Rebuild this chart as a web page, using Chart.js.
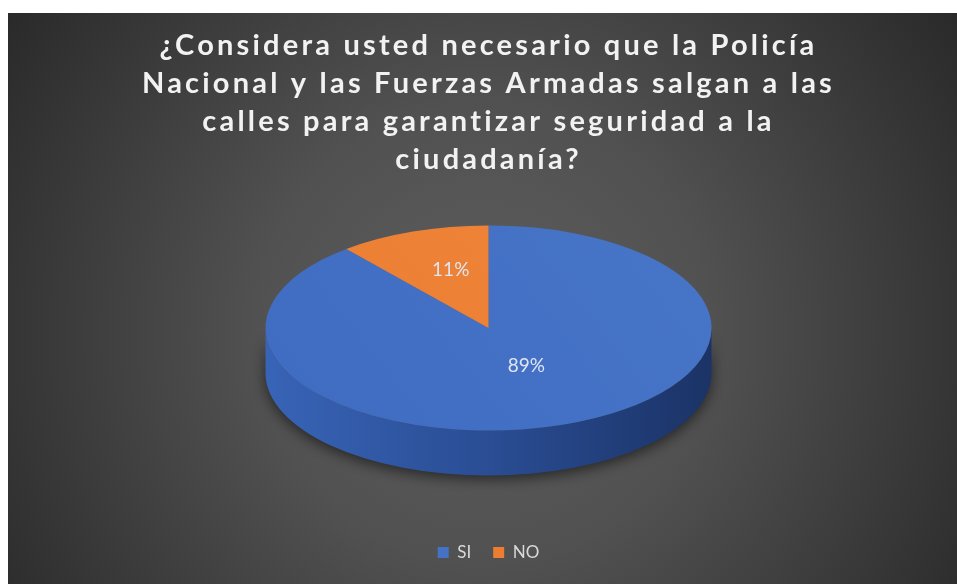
<!DOCTYPE html>
<html>
<head>
<meta charset="utf-8">
<script src="https://cdn.jsdelivr.net/npm/chart.js@4.4.1/dist/chart.umd.min.js"></script>
<style>
  body { margin: 0; background: #fff; }
  #wrap { position: absolute; left: 8px; top: 13px; width: 949px; height: 571px; }
</style>
</head>
<body>
<div id="wrap"><canvas id="pieChart"></canvas></div>
<script>
const titleLines = [
  "¿Considera usted necesario que la Policía",
  "Nacional y las Fuerzas Armadas salgan a las",
  "calles para garantizar seguridad a la",
  "ciudadanía?"
];
const labels = ["SI", "NO"];
const values = [89, 11];
const colors = ["#4472C4", "#ED7D31"];
const topShades = [["#4d7bcb", "#3966be"], ["#f28a40", "#e8782c"]];
const sideColors = [["#3864b7", "#2a4d94", "#1b3366"], ["#c0622a", "#a85220", "#7a3a15"]];

// look of the 3d disc
const RX = 223;
const TILT = 0.46;
const DEPTH = 45;

function pieGeom(chart) {
  const el = chart.getDatasetMeta(0).data[0];
  const r = el.outerRadius;
  return { x: el.x, y: el.y, cx: el.x, cy: el.y - DEPTH / 2, rx: RX, ry: RX * TILT, r: r };
}

function topFill(context) {
  const i = context.dataIndex;
  const area = context.chart.chartArea;
  if (!area || i === undefined) return colors[i] || colors[0];
  const c = context.chart.ctx;
  const g = c.createLinearGradient(area.right, area.top, area.left, area.bottom);
  g.addColorStop(0, topShades[i][0]);
  g.addColorStop(1, topShades[i][1]);
  return g;
}

const disc3d = {
  id: "disc3d",
  afterLayout(chart) {
    // spaced out letters for the title only
    const tb = chart.titleBlock;
    if (tb && !tb._spaced) {
      const orig = tb.draw.bind(tb);
      tb.draw = function () {
        chart.ctx.letterSpacing = "3.2px";
        orig();
        chart.ctx.letterSpacing = "0px";
      };
      tb._spaced = true;
    }
  },
  beforeDraw(chart) {
    const { ctx, width, height } = chart;
    const g = ctx.createRadialGradient(width / 2, height * 0.56, 0, width / 2, height * 0.56, width * 0.6);
    g.addColorStop(0, "#5e5e5e");
    g.addColorStop(0.4, "#515151");
    g.addColorStop(1, "#2a2a2a");
    ctx.save();
    ctx.fillStyle = g;
    ctx.fillRect(0, 0, width, height);
    ctx.restore();
  },
  beforeDatasetsDraw(chart) {
    const ctx = chart.ctx;
    const p = pieGeom(chart);
    const arcs = chart.getDatasetMeta(0).data;
    // side wall, only the front half is visible
    arcs.forEach((el, i) => {
      [0, 2 * Math.PI, -2 * Math.PI].forEach(shift => {
        const a = Math.max(el.startAngle + shift, 0);
        const b = Math.min(el.endAngle + shift, Math.PI);
        if (b <= a) return;
        const g = ctx.createLinearGradient(p.cx - p.rx, 0, p.cx + p.rx, 0);
        g.addColorStop(0, sideColors[i][0]);
        g.addColorStop(0.5, sideColors[i][1]);
        g.addColorStop(1, sideColors[i][2]);
        ctx.save();
        ctx.shadowColor = "rgba(0,0,0,0.55)";
        ctx.shadowBlur = 14;
        ctx.shadowOffsetY = 4;
        ctx.beginPath();
        ctx.ellipse(p.cx, p.cy, p.rx, p.ry, 0, a, b, false);
        ctx.ellipse(p.cx, p.cy + DEPTH, p.rx, p.ry, 0, b, a, true);
        ctx.closePath();
        ctx.fillStyle = g;
        ctx.fill();
        ctx.restore();
      });
    });
    // squash the flat pie into the top face
    ctx.save();
    ctx.translate(p.cx, p.cy);
    ctx.scale(p.rx / p.r, p.ry / p.r);
    ctx.translate(-p.x, -p.y);
  },
  afterDatasetsDraw(chart) {
    const ctx = chart.ctx;
    ctx.restore();
    const p = pieGeom(chart);
    const total = values.reduce((s, v) => s + v, 0);
    ctx.save();
    ctx.font = "19px Lato";
    ctx.fillStyle = "#dfe6f2";
    ctx.textAlign = "center";
    ctx.textBaseline = "middle";
    chart.getDatasetMeta(0).data.forEach((el, i) => {
      const mid = (el.startAngle + el.endAngle) / 2;
      const tx = p.cx + p.rx * 0.5 * Math.cos(mid);
      const ty = p.cy + p.ry * 0.5 * Math.sin(mid) - p.ry * 0.1;
      ctx.fillText(Math.round(values[i] / total * 100) + "%", tx, ty);
    });
    ctx.restore();
  }
};

const ctx = document.getElementById("pieChart").getContext("2d");
const chart = new Chart(ctx, {
  type: "pie",
  data: {
    labels: labels,
    datasets: [
      {
        data: values,
        backgroundColor: topFill,
        borderWidth: 0,
        clip: false,
      },
    ],
  },
  options: {
    responsive: true,
    maintainAspectRatio: false,
    animation: false,
    layout: { padding: { left: 12, bottom: 13 } },
    plugins: {
      title: {
        display: true,
        text: titleLines,
        color: "#f2f2f2",
        font: { family: "Lato", size: 29, weight: "bold", lineHeight: 1.31 },
        padding: { top: 14, bottom: 0 },
      },
      legend: {
        position: "bottom",
        labels: {
          color: "#d9d9d9",
          font: { family: "Lato", size: 17 },
          boxWidth: 11,
          boxHeight: 11,
          padding: 22,
          generateLabels(ch) {
            return labels.map((l, i) => ({
              text: l,
              fillStyle: colors[i],
              strokeStyle: colors[i],
              lineWidth: 0,
              fontColor: "#d9d9d9",
              index: i,
              hidden: false,
            }));
          },
        },
      },
      tooltip: { enabled: false },
    },
  },
  plugins: [disc3d],
});
chart.draw();
</script>
</body>
</html>
